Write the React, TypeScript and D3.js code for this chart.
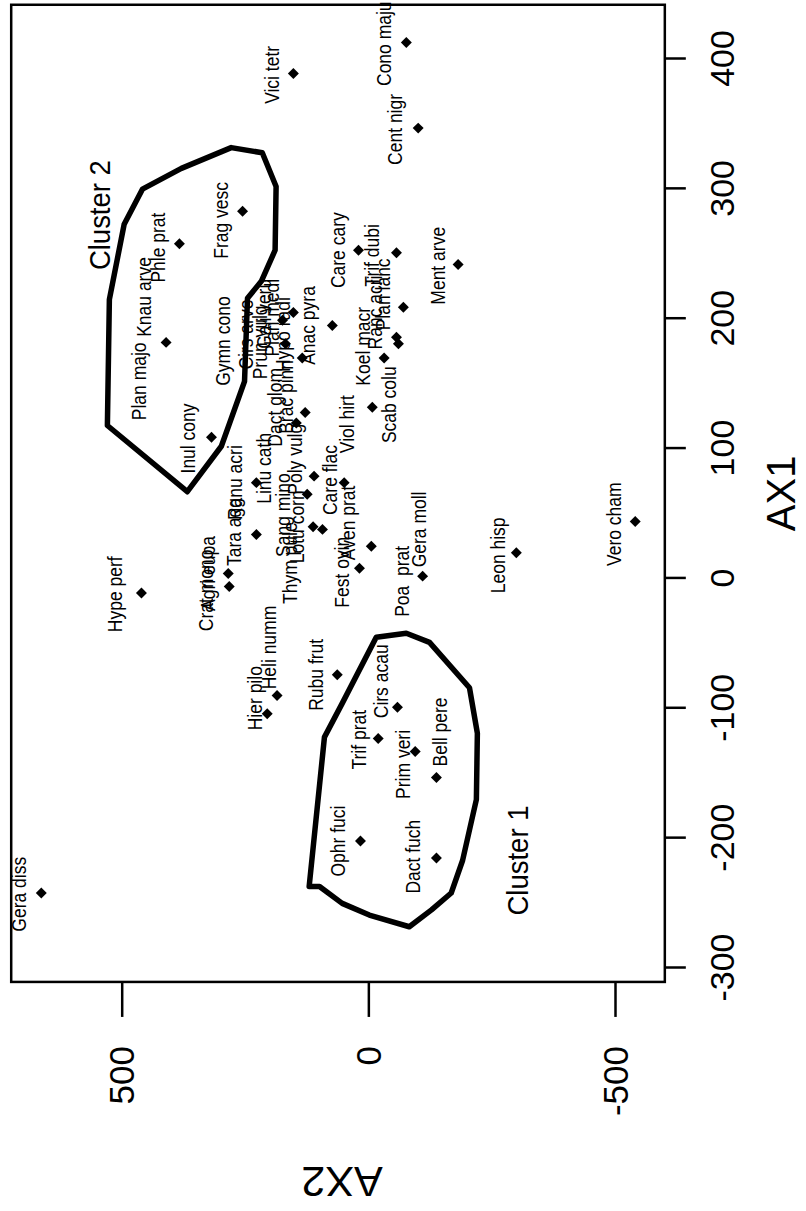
import React, { useEffect, useRef } from "react";
import * as d3 from "d3";

// species points (AX1, AX2)
const pointAX1 = [
  412, 388, 346, 282, 257, 252, 250, 241, 181, 204, 198, 180, 194, 169, 208, 185,
  180, 169, 131, 127, 119, 108, 73, 78, 73, 64, 33, 39, 37, 24, 7, 1, 19, 43, 3,
  -7, -12, -75, -91, -105, -100, -124, -134, -154, -203, -216, -243,
];
const pointAX2 = [
  -77, 152, -101, 255, 383, 20, -57, -182, 410, 152, 174, 168, 73, 134, -71, -57,
  -61, -32, -8, 128, 146, 318, 227, 110, 49, 124, 227, 112, 93, -6, 18, -110, -300,
  -541, 284, 282, 460, 63, 185, 205, -59, -20, -95, -138, 16, -138, 663,
];

// species labels and where they sit
const labelNames = [
  "Cono maju", "Vici tetr", "Cent nigr", "Frag vesc", "Phle prat", "Care cary",
  "Trif dubi", "Ment arve", "Knau arve", "Plan majo", "Plan lanc", "Ranc acri",
  "Koel macr", "Scab colu", "Viol hirt", "Anac pyra", "Care flac", "Aven prat",
  "Fest ovin", "Gera moll", "Poa  prat", "Leon hisp", "Vero cham", "Inul cony",
  "Gymn cono", "Cirs arve", "Prun vulg", "Gali veru", "Plan medi", "Hypo radi",
  "Brac pinn", "Dact glom", "Linu cath", "Poly vulg", "Sang mino", "Lotu corn",
  "Thym pule", "Ranu acri", "Tara agg", "Agri eupa", "Crat mono", "Hype perf",
  "Rubu frut", "Heli numm", "Hier pilo", "Cirs acau", "Trif prat", "Prim veri",
  "Bell pere", "Ophr fuci", "Dact fuch", "Gera diss",
];
const labelAX1 = [
  411, 387, 345, 275, 254, 252, 248, 240, 216, 151, 218, 204, 178, 133, 118, 194,
  75, 42, 4, 37, -3, 17, 41, 107, 182, 187, 181, 203, 200, 187, 139, 131, 84, 91,
  48, 39, 11, 73, 35, 3, -10, -13, -75, -54, -93, -80, -125, -144, -119, -203,
  -215, -244,
];
const labelAX2 = [
  -32, 195, -55, 298, 426, 61, -8, -142, 454, 464, -30, -14, 10, -43, 43, 122, 77,
  41, 53, -103, -69, -264, -499, 365, 294, 247, 219, 211, 195, 172, 166, 189, 211,
  148, 172, 144, 158, 270, 272, 324, 328, 513, 105, 201, 229, -26, 18, -71, -146,
  61, -91, 707,
];

// cluster outlines
const cluster1AX1 = [-46, -43, -50, -85, -120, -171, -218, -243, -256, -269, -260, -251, -238, -238, -123, -97];
const cluster1AX2 = [-16, -77, -124, -205, -221, -219, -191, -168, -128, -83, -2, 53, 99, 120, 89, 53];
const cluster2AX1 = [299, 315, 331, 327, 301, 252, 228, 215, 151, 101, 66, 117, 214, 272];
const cluster2AX2 = [458, 379, 278, 215, 187, 189, 217, 245, 251, 298, 367, 529, 525, 495];
const clusterNames = ["Cluster 1", "Cluster 2"];
const clusterLabelAX1 = [-218, 279];
const clusterLabelAX2 = [-302, 545];

const ax1Ticks = [-300, -200, -100, 0, 100, 200, 300, 400];
const ax2Ticks = [-500, 0, 500];

const App = () => {
  const svgRef = useRef<SVGSVGElement>(null);

  useEffect(() => {
    const width = 806;
    const height = 1211;
    const font = "Liberation Sans, Arial, Helvetica, sans-serif";

    const svg = d3.select(svgRef.current).attr("width", width).attr("height", height);
    svg.selectAll("*").remove();

    // AX2 runs across the page (right to left), AX1 up the page
    const x = d3.scaleLinear().domain([500, -500]).range([121.7, 615]);
    const y = d3.scaleLinear().domain([400, -300]).range([58, 967]);

    const left = x(724);
    const right = x(-601);
    const top = y(441);
    const bottom = y(-311.5);

    // points
    const diamond = d3.symbol().type(d3.symbolSquare).size(60);
    svg
      .append("g")
      .selectAll("path")
      .data(pointAX1.map((a, i) => [a, pointAX2[i]]))
      .join("path")
      .attr("d", diamond)
      .attr("fill", "#000")
      .attr("transform", (d) => `translate(${x(d[1])},${y(d[0])}) rotate(45)`);

    // species labels (glyphs a little taller than wide, as in the scan)
    svg
      .append("g")
      .attr("font-family", font)
      .attr("font-size", 17.5)
      .selectAll("text")
      .data(labelNames)
      .join("text")
      .attr(
        "transform",
        (_, i) => `translate(${x(labelAX2[i])},${y(labelAX1[i])}) rotate(-90) scale(1,1.12)`
      )
      .attr("text-anchor", "middle")
      .attr("dy", "0.35em")
      .style("white-space", "pre")
      .text((d) => d);

    // cluster outlines
    const line = d3
      .line<[number, number]>()
      .x((d) => x(d[1]))
      .y((d) => y(d[0]));
    const hulls = [
      cluster1AX1.map((a, i) => [a, cluster1AX2[i]] as [number, number]),
      cluster2AX1.map((a, i) => [a, cluster2AX2[i]] as [number, number]),
    ];
    svg
      .append("g")
      .selectAll("path")
      .data(hulls)
      .join("path")
      .attr("d", (d) => line(d) + "Z")
      .attr("fill", "none")
      .attr("stroke", "#000")
      .attr("stroke-width", 5.5)
      .attr("stroke-linejoin", "round");

    svg
      .append("g")
      .attr("font-family", font)
      .attr("font-size", 27.5)
      .selectAll("text")
      .data(clusterNames)
      .join("text")
      .attr(
        "transform",
        (_, i) => `translate(${x(clusterLabelAX2[i])},${y(clusterLabelAX1[i])}) rotate(-90) scale(1,1.08)`
      )
      .attr("text-anchor", "middle")
      .attr("dy", "0.35em")
      .text((d) => d);

    // plot box
    svg
      .append("rect")
      .attr("x", left)
      .attr("y", top)
      .attr("width", right - left)
      .attr("height", bottom - top)
      .attr("fill", "none")
      .attr("stroke", "#000")
      .attr("stroke-width", 2.5);

    // AX1 axis on the right
    const gx1 = svg
      .append("g")
      .attr("transform", `translate(${right},0)`)
      .call(d3.axisRight(y).tickValues(ax1Ticks).tickSize(21).tickFormat((d) => String(d)));
    gx1.select(".domain").remove();
    gx1.selectAll(".tick line").attr("stroke-width", 2.5);
    gx1
      .selectAll(".tick text")
      .attr("x", 0)
      .attr("y", 0)
      .attr("dy", "0.35em")
      .attr("text-anchor", "middle")
      .attr("transform", `translate(${722.5 - right},0) rotate(-90)`)
      .attr("font-family", font)
      .attr("font-size", 34)
      .attr("fill", "#000");

    // AX2 axis along the bottom
    const gx2 = svg
      .append("g")
      .attr("transform", `translate(0,${bottom})`)
      .call(d3.axisBottom(x).tickValues(ax2Ticks).tickSize(35).tickFormat((d) => String(d)));
    gx2.select(".domain").remove();
    gx2.selectAll(".tick line").attr("stroke-width", 2.5);
    gx2
      .selectAll(".tick text")
      .attr("x", 0)
      .attr("y", 0)
      .attr("dy", "0.35em")
      .attr("text-anchor", "end")
      .attr("transform", `translate(0,${1046 - bottom}) rotate(-90)`)
      .attr("font-family", font)
      .attr("font-size", 35)
      .attr("fill", "#000");

    // axis titles
    svg
      .append("text")
      .attr("transform", `translate(${781},${(top + bottom) / 2}) rotate(-90)`)
      .attr("text-anchor", "middle")
      .attr("dy", "0.35em")
      .attr("font-family", font)
      .attr("font-size", 40)
      .text("AX1");

    svg
      .append("text")
      .attr("transform", `translate(${(left + right) / 2 + 4},${1167}) rotate(180)`)
      .attr("text-anchor", "middle")
      .attr("font-family", font)
      .attr("font-size", 43)
      .text("AX2");
  }, []);

  return (
    <div>
      <svg ref={svgRef} style={{ position: "absolute", left: 0, top: 0, background: "#fff" }}></svg>
    </div>
  );
};

export default App;
